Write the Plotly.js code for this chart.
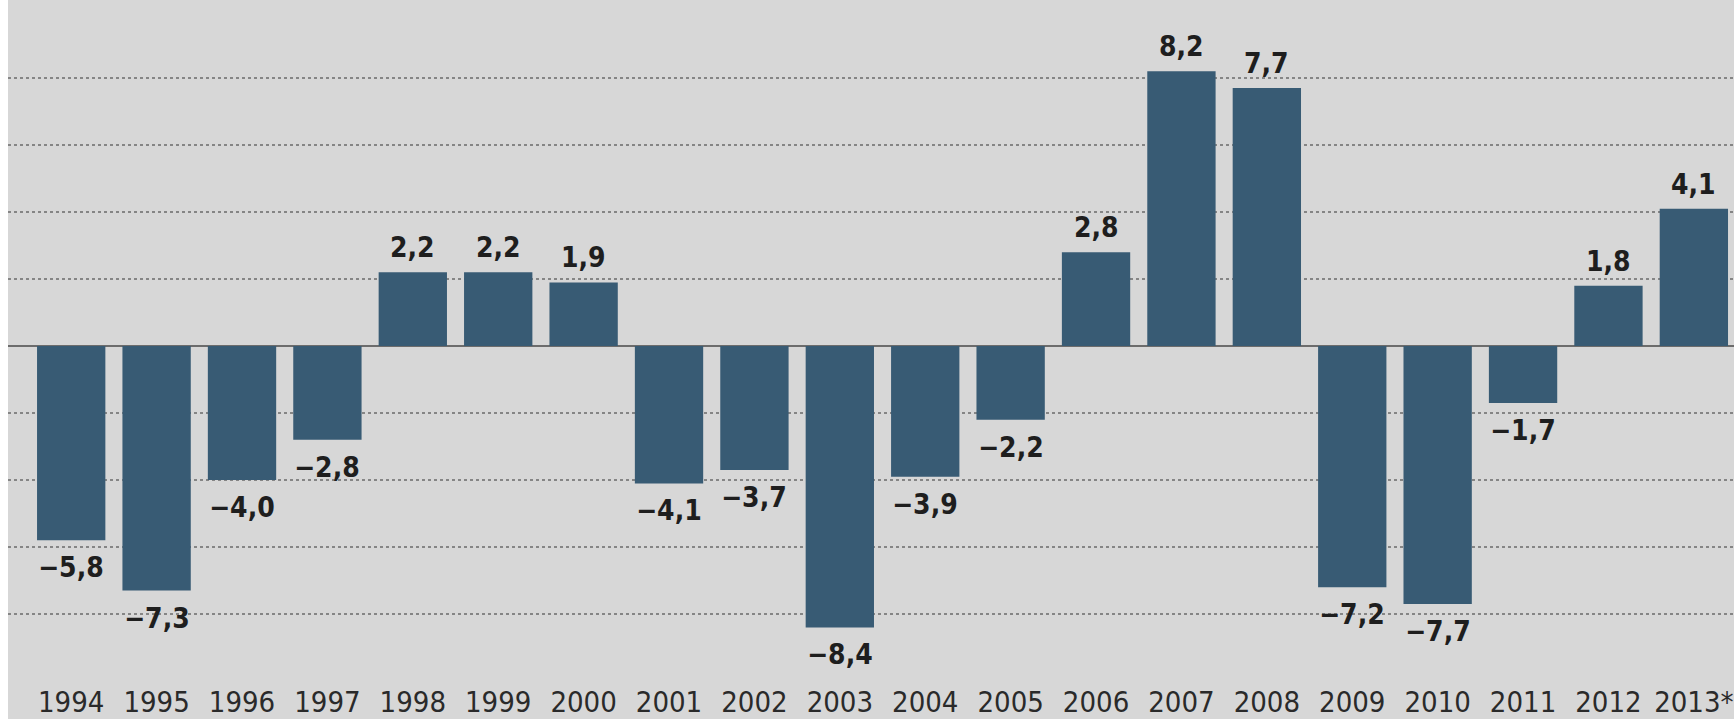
<!DOCTYPE html>
<html>
<head>
<meta charset="utf-8">
<script src="https://cdn.plot.ly/plotly-3.0.1.min.js"></script>
<style>
  html, body { margin: 0; padding: 0; background: #ffffff; overflow: hidden; }
  #chart { position: absolute; left: 8px; top: 0; width: 1726px; height: 719px; }
</style>
</head>
<body>
<div id="chart"></div>
<script>
const years = ["1994","1995","1996","1997","1998","1999","2000","2001","2002","2003",
               "2004","2005","2006","2007","2008","2009","2010","2011","2012","2013*"];
const values = [-5.8,-7.3,-4.0,-2.8,2.2,2.2,1.9,-4.1,-3.7,-8.4,
                -3.9,-2.2,2.8,8.2,7.7,-7.2,-7.7,-1.7,1.8,4.1];
const gridVals = [-8,-6,-4,-2,2,4,6,8];

const labelText = values.map(v => (v < 0 ? "\u2212" : "") + Math.abs(v).toFixed(1).replace(".", ","));

const FONT = "'DejaVu Sans Condensed', 'Liberation Sans', sans-serif";
const BG = "#d7d7d7";

const trace = {
  type: "bar",
  x: years,
  y: values,
  width: 0.8,
  marker: { color: "#385b74" },
  hoverinfo: "skip"
};

// category index used as annotation x (numeric-looking category names would be read as indices)
const annotations = values.map((v, i) => ({
  x: i,
  y: v,
  xref: "x",
  yref: "y",
  text: "<b>" + labelText[i] + "</b>",
  showarrow: false,
  xanchor: "center",
  yanchor: v >= 0 ? "bottom" : "top",
  yshift: v >= 0 ? 6 : -9,
  font: { family: FONT, size: 28, color: "#1e1e1e" }
}));

const layout = {
  width: 1726,
  height: 719,
  margin: { l: 0, r: 0, t: 0, b: 50, pad: 0 },
  paper_bgcolor: BG,
  plot_bgcolor: BG,
  showlegend: false,
  bargap: 0.2,
  xaxis: {
    type: "category",
    categoryorder: "array",
    categoryarray: years,
    range: [-0.74, 19.47],
    showgrid: false,
    zeroline: false,
    showline: false,
    ticks: "",
    ticklabelstandoff: 13,
    tickfont: { family: FONT, size: 29, color: "#2a2a2a" },
    fixedrange: true
  },
  yaxis: {
    range: [-9.64, 10.33],
    tickvals: gridVals,
    showticklabels: false,
    showgrid: true,
    gridcolor: "#858585",
    gridwidth: 2,
    griddash: "dot",
    zeroline: true,
    zerolinecolor: "#6c6c6c",
    zerolinewidth: 2,
    showline: false,
    ticks: "",
    fixedrange: true
  },
  annotations: annotations
};

Plotly.newPlot("chart", [trace], layout, { displayModeBar: false, staticPlot: true });
</script>
</body>
</html>
